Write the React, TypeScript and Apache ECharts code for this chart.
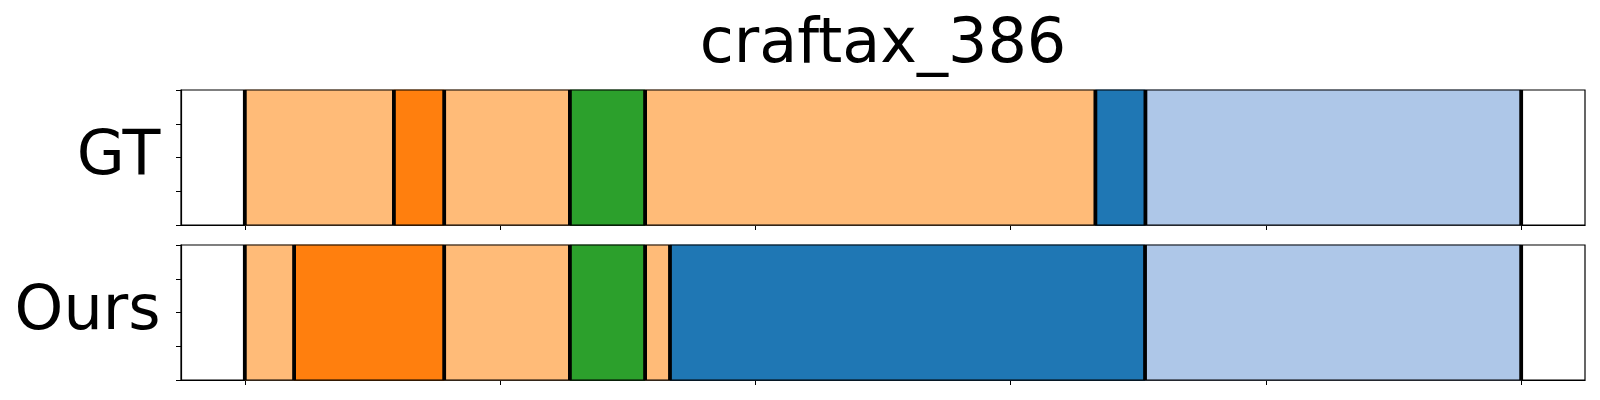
import React, { useEffect, useRef } from "react";
import * as echarts from "echarts";

// Segment boundaries (percent of the episode) and the class of each segment
const title = "craftax_386";
const rowLabels = ["GT", "Ours"];
const gtBounds = [0, 11.68, 15.62, 25.47, 31.36, 66.64, 70.56, 100];
const gtClasses = [1, 0, 1, 2, 1, 3, 4];
const oursBounds = [0, 3.86, 15.62, 25.47, 31.36, 33.31, 70.53, 100];
const oursClasses = [1, 0, 1, 2, 1, 3, 4];
const xTicks = [0, 20, 40, 60, 80, 100];
const yTicks = [0, 0.25, 0.5, 0.75, 1];

const classColors = ["#ff7f0e", "#ffbb78", "#2ca02c", "#1f77b4", "#aec7e8"];

const W = 1600;
const H = 400;
const gridLeft = 181;
const gridWidth = 1404;
const gridTops = [90, 245];
const gridHeight = 135;
const font = "'DejaVu Sans', sans-serif";

function segments(bounds: number[], classes: number[]) {
  return classes.map((c, i) => [bounds[i], bounds[i + 1], c]);
}

export default function App() {
  const ref = useRef<HTMLDivElement>(null);
  useEffect(() => {
    if (!ref.current) return;
    const chart = echarts.init(ref.current, undefined, { renderer: "svg" });
    const rows = [
      { bounds: gtBounds, classes: gtClasses },
      { bounds: oursBounds, classes: oursClasses },
    ];
    const grid = gridTops.map((t) => ({
      left: gridLeft,
      top: t,
      width: gridWidth,
      height: gridHeight,
      containLabel: false,
    }));
    const xAxis = rows.map((_, i) => ({
      type: "value",
      gridIndex: i,
      min: -5,
      max: 105,
      axisLabel: { show: false },
      splitLine: { show: false },
      axisLine: { show: true, onZero: false, lineStyle: { color: "#000", width: 1.2 } },
      axisTick: {
        show: true,
        length: 5,
        customValues: xTicks,
        lineStyle: { color: "#000", width: 1 },
      },
    }));
    const yAxis = rows.map((_, i) => ({
      type: "value",
      gridIndex: i,
      min: 0,
      max: 1,
      interval: 0.25,
      axisLabel: { show: false },
      splitLine: { show: false },
      axisLine: { show: true, onZero: false, lineStyle: { color: "#000", width: 1.2 } },
      axisTick: {
        show: true,
        length: 5,
        customValues: yTicks,
        lineStyle: { color: "#000", width: 1 },
      },
    }));
    const series: any[] = [];
    rows.forEach((r, i) => {
      series.push({
        type: "custom",
        xAxisIndex: i,
        yAxisIndex: i,
        data: segments(r.bounds, r.classes),
        encode: { x: [0, 1] },
        renderItem: (params: any, api: any) => {
          const s = api.coord([api.value(0), 1]);
          const e = api.coord([api.value(1), 0]);
          const col = classColors[api.value(2)];
          return {
            type: "rect",
            shape: { x: s[0], y: s[1], width: e[0] - s[0], height: e[1] - s[1] },
            style: { fill: col, stroke: col, lineWidth: 0.8 },
          };
        },
        z: 2,
      });
      series.push({
        type: "custom",
        xAxisIndex: i,
        yAxisIndex: i,
        data: r.bounds.map((b) => [b]),
        encode: { x: 0 },
        renderItem: (params: any, api: any) => {
          const a = api.coord([api.value(0), 1]);
          const b = api.coord([api.value(0), 0]);
          return {
            type: "line",
            shape: { x1: a[0], y1: a[1], x2: b[0], y2: b[1] },
            style: { stroke: "#000", lineWidth: 3.8 },
          };
        },
        z: 3,
      });
    });
    const graphic: any[] = [
      {
        type: "text",
        x: (gridLeft + gridLeft + gridWidth) / 2,
        y: 40,
        style: {
          text: title,
          font: `62px ${font}`,
          fill: "#000",
          align: "center",
          verticalAlign: "middle",
        },
      },
    ];
    rowLabels.forEach((lab, i) => {
      graphic.push({
        type: "text",
        x: 160.5,
        y: gridTops[i] + gridHeight / 2 - 5,
        style: {
          text: lab,
          font: `62px ${font}`,
          fill: "#000",
          align: "right",
          verticalAlign: "middle",
        },
      });
      graphic.push({
        type: "rect",
        z: 100,
        shape: { x: gridLeft, y: gridTops[i], width: gridWidth, height: gridHeight },
        style: { fill: "none", stroke: "#000", lineWidth: 1.2 },
      });
    });
    chart.setOption({
      animation: false,
      backgroundColor: "#fff",
      grid,
      xAxis,
      yAxis,
      series,
      graphic,
    });
    return () => chart.dispose();
  }, []);
  return (
    <div
      ref={ref}
      style={{ position: "absolute", left: 0, top: 0, width: W, height: H }}
    />
  );
}
